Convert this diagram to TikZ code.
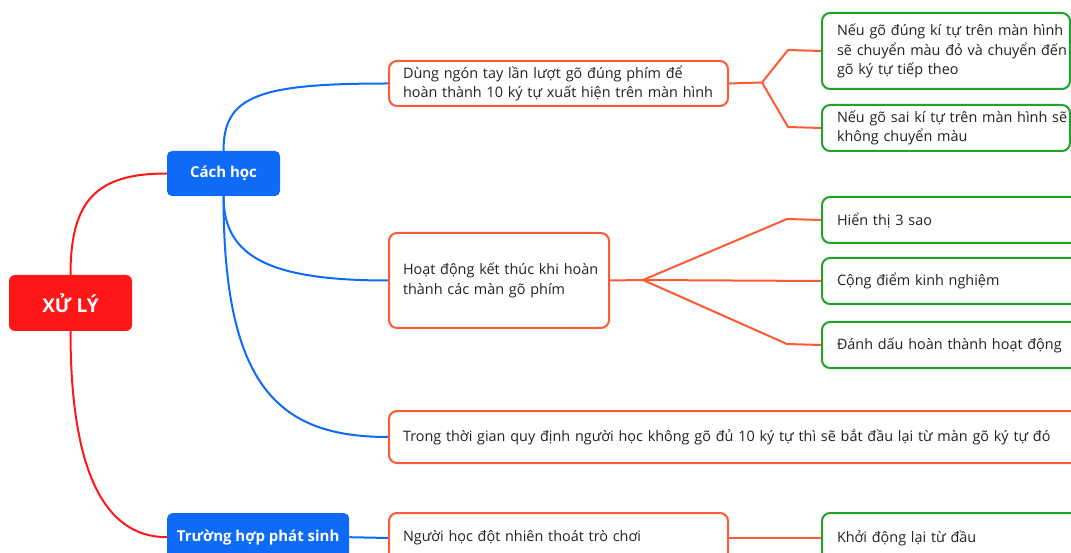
\documentclass[tikz,border=0pt]{standalone}
\usepackage{fontspec}
\setmainfont{Open Sans}
\definecolor{rootred}{HTML}{FF1616}
\definecolor{topicblue}{HTML}{0D6BF8}
\definecolor{leaforange}{HTML}{FF5A36}
\definecolor{subgreen}{HTML}{22A229}
\definecolor{bodytext}{HTML}{222222}
\begin{document}
\begin{tikzpicture}[x=1pt,y=-1pt,
  bodyfont/.style={font=\fontsize{14.4}{19.5}\selectfont},
  rootbox/.style={fill=rootred, rounded corners=6pt, text=white,
    font=\bfseries\fontsize{19}{22}\selectfont,
    minimum width=123pt, minimum height=56pt, inner sep=0pt},
  topicbox/.style={fill=topicblue, rounded corners=5pt, text=white,
    font=\bfseries\fontsize{15}{18}\selectfont,
    minimum height=45pt, inner sep=0pt},
  leafbox/.style={bodyfont, text=bodytext, draw=leaforange, line width=2pt,
    rounded corners=8pt, fill=white, align=left, anchor=north west,
    inner xsep=14pt, inner ysep=0pt},
  subbox/.style={leafbox, draw=subgreen, inner xsep=15pt},
  redlink/.style={draw=rootred, line width=2pt},
  bluelink/.style={draw=topicblue, line width=2pt},
  orangelink/.style={draw=leaforange, line width=2pt, line join=round}
]
\useasboundingbox (0,0) rectangle (1071,553);
\clip (0,0) rectangle (1071,553);

% main topics
\node[rootbox] (root) at (70.5,303) {XỬ LÝ};
\node[topicbox, minimum width=113pt] (cach) at (223.5,173.5) {Cách học};
\node[topicbox, minimum width=182pt, anchor=north west, minimum height=48pt] (truong) at (167,513) {Trường hợp phát sinh};

% second level (each printed line kept whole)
\node[leafbox, text width=311pt, minimum height=45pt] (b1) at (388,60)
  {\mbox{Dùng ngón tay lần lượt gõ đúng phím để}\\\mbox{hoàn thành 10 ký tự xuất hiện trên màn hình}};
\node[leafbox, text width=192pt, minimum height=95pt] (b2) at (388,232)
  {\mbox{Hoạt động kết thúc khi hoàn}\\\mbox{thành các màn gõ phím}};
\node[leafbox, text width=692pt, minimum height=52pt] (b3) at (388,410)
  {\mbox{Trong thời gian quy định người học không gõ đủ 10 ký tự thì sẽ bắt đầu lại từ màn gõ ký tự đó}};
\node[leafbox, text width=311pt, minimum height=50pt] (b4) at (388,512)
  {\mbox{Người học đột nhiên thoát trò chơi}};

% third level
\node[subbox, text width=218pt, minimum height=76pt] (g1) at (821,12)
  {\mbox{Nếu gõ đúng kí tự trên màn hình}\\\mbox{sẽ chuyển màu đỏ và chuyển đến}\\\mbox{gõ ký tự tiếp theo}};
\node[subbox, text width=218pt, minimum height=46pt] (g2) at (821,104)
  {\mbox{Nếu gõ sai kí tự trên màn hình sẽ}\\\mbox{không chuyển màu}};
\node[subbox, text width=270pt, minimum height=46pt] (g3) at (821,196) {Hiển thị 3 sao};
\node[subbox, text width=270pt, minimum height=46pt] (g4) at (821,257) {Cộng điểm kinh nghiệm};
\node[subbox, text width=270pt, minimum height=46pt] (g5) at (821,321) {Đánh dấu hoàn thành hoạt động};
\node[subbox, text width=270pt, minimum height=50pt] (g6) at (821,512) {Khởi động lại từ đầu};

% root to topics
\draw[redlink] (root.north) .. controls +(0,-75) and +(-70,0) .. (cach.west);
\draw[redlink] (root.south) .. controls +(0,135) and +(-65,0) .. (truong.west);

% topic to second level
\draw[bluelink] (cach.north) .. controls +(0,-55) and +(-130,0) .. (b1.west);
\draw[bluelink] (cach.south) .. controls +(0,60) and +(-120,0) .. (b2.west);
\draw[bluelink] (cach.south) .. controls +(0,190) and +(-110,0) .. (b3.west);
\draw[bluelink] (truong.east) -- (b4.west);

% forks to third level
\coordinate (f1) at (762,82.5);
\coordinate (f1a) at (788,50);
\coordinate (f1b) at (788,127);
\draw[orangelink] (b1.east) -- (f1) -- (f1a) -- (g1.west);
\draw[orangelink] (f1) -- (f1b) -- (g2.west);

\coordinate (f2) at (643,280);
\coordinate (f2a) at (787,219);
\coordinate (f2c) at (787,344);
\draw[orangelink] (b2.east) -- (f2) -- (f2a) -- (g3.west);
\draw[orangelink] (f2) -- (g4.west);
\draw[orangelink] (f2) -- (f2c) -- (g5.west);

\draw[orangelink] (b4.east) -- (g6.west);
\end{tikzpicture}
\end{document}
